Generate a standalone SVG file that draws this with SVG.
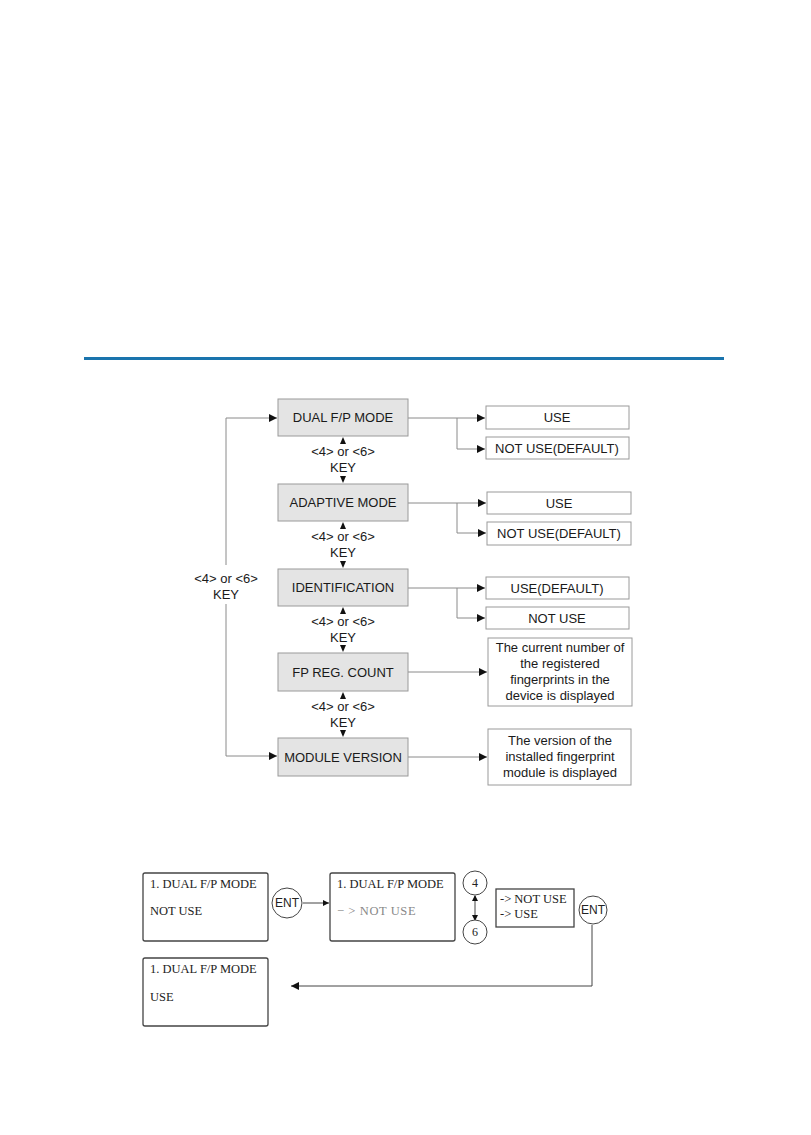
<svg xmlns="http://www.w3.org/2000/svg" width="811" height="1135" viewBox="0 0 811 1135">
<defs>
<style>
.mb{fill:#e4e4e4;stroke:#9a9a9a;stroke-width:1}
.ob{fill:#fff;stroke:#9a9a9a;stroke-width:1}
.t{font-family:"Liberation Sans",Arial,sans-serif;font-size:13px;fill:#1a1a1a;text-anchor:middle}
.ln{fill:none;stroke:#8a8a8a;stroke-width:1}
.lcd{fill:#fff;stroke:#444;stroke-width:1.3}
.s{font-family:"Liberation Serif","Times New Roman",serif;font-size:12.5px;fill:#222}
.g{fill:#888;letter-spacing:0.6px}
.c{fill:#fff;stroke:#444;stroke-width:1}
.ct{font-family:"Liberation Sans",Arial,sans-serif;font-size:12px;fill:#222;text-anchor:middle}
.cs{font-family:"Liberation Serif",serif;font-size:12px;fill:#222;text-anchor:middle}
.bl{fill:none;stroke:#444;stroke-width:1}
</style>
<marker id="ah" markerWidth="8" markerHeight="8" refX="8" refY="4" orient="auto" markerUnits="userSpaceOnUse">
<path d="M0,0 L8,4 L0,8 z" fill="#111"/>
</marker>
<marker id="ahs" markerWidth="6" markerHeight="6" refX="6" refY="3" orient="auto" markerUnits="userSpaceOnUse">
<path d="M0,0 L6,3 L0,6 z" fill="#111"/>
</marker>
</defs>
<rect width="811" height="1135" fill="#fff"/>
<rect x="84" y="357" width="640" height="3" fill="#1a74ad"/>

<g id="connectors">
<path class="ln" d="M226,565 V418 H277" marker-end="url(#ah)"/>
<path class="ln" d="M226,604 V756 H277" marker-end="url(#ah)"/>
<path class="ln" d="M408,418 H485" marker-end="url(#ah)"/>
<path class="ln" d="M457,418 V449 H485" marker-end="url(#ah)"/>
<path class="ln" d="M408,503 H486" marker-end="url(#ah)"/>
<path class="ln" d="M457,503 V533 H486" marker-end="url(#ah)"/>
<path class="ln" d="M408,588 H485" marker-end="url(#ah)"/>
<path class="ln" d="M457,588 V618 H485" marker-end="url(#ah)"/>
<path class="ln" d="M408,672 H487" marker-end="url(#ah)"/>
<path class="ln" d="M408,757 H487" marker-end="url(#ah)"/>
<g fill="#111">
<path d="M343,437 L340,444 L346,444 z"/><path d="M343,483 L340,476 L346,476 z"/>
<path d="M343,522 L340,529 L346,529 z"/><path d="M343,568 L340,561 L346,561 z"/>
<path d="M343,607 L340,614 L346,614 z"/><path d="M343,652 L340,645 L346,645 z"/>
<path d="M343,692 L340,699 L346,699 z"/><path d="M343,737 L340,730 L346,730 z"/>
</g>
<path class="bl" d="M303,903 H329" marker-end="url(#ahs)"/>
<path class="bl" d="M475,896 V920"/>
<path d="M475,895 L472,901 L478,901 z M475,921 L472,915 L478,915 z" fill="#111"/>
<path class="bl" d="M592,925 V986 H291" marker-end="url(#ah)"/>
</g>

<g id="key-labels">
<text class="t" x="343" y="456">&lt;4&gt; or &lt;6&gt;</text><text class="t" x="343" y="472">KEY</text>
<text class="t" x="343" y="541">&lt;4&gt; or &lt;6&gt;</text><text class="t" x="343" y="557">KEY</text>
<text class="t" x="343" y="626">&lt;4&gt; or &lt;6&gt;</text><text class="t" x="343" y="642">KEY</text>
<text class="t" x="343" y="711">&lt;4&gt; or &lt;6&gt;</text><text class="t" x="343" y="727">KEY</text>
<text class="t" x="226" y="583">&lt;4&gt; or &lt;6&gt;</text><text class="t" x="226" y="599">KEY</text>
</g>

<g id="dual"><rect class="mb" x="278" y="399" width="130" height="37"/><text class="t" x="343" y="422">DUAL F/P MODE</text></g>
<g id="adaptive"><rect class="mb" x="278" y="484" width="130" height="37"/><text class="t" x="343" y="507">ADAPTIVE MODE</text></g>
<g id="ident"><rect class="mb" x="278" y="569" width="130" height="37"/><text class="t" x="343" y="592">IDENTIFICATION</text></g>
<g id="fpreg"><rect class="mb" x="278" y="653" width="130" height="38"/><text class="t" x="343" y="677">FP REG. COUNT</text></g>
<g id="module"><rect class="mb" x="278" y="738" width="130" height="38"/><text class="t" x="343" y="762">MODULE VERSION</text></g>

<g id="dual-use"><rect class="ob" x="486" y="406" width="143" height="23"/><text class="t" x="557" y="422">USE</text></g>
<g id="dual-notuse"><rect class="ob" x="486" y="437" width="143" height="22"/><text class="t" x="557" y="453">NOT USE(DEFAULT)</text></g>
<g id="adapt-use"><rect class="ob" x="487" y="492" width="144" height="22"/><text class="t" x="559" y="508">USE</text></g>
<g id="adapt-notuse"><rect class="ob" x="487" y="522" width="144" height="23"/><text class="t" x="559" y="538">NOT USE(DEFAULT)</text></g>
<g id="ident-use"><rect class="ob" x="486" y="577" width="143" height="22"/><text class="t" x="557" y="593">USE(DEFAULT)</text></g>
<g id="ident-notuse"><rect class="ob" x="486" y="607" width="143" height="22"/><text class="t" x="557" y="623">NOT USE</text></g>
<g id="fp-desc"><rect class="ob" x="488" y="638" width="144" height="68"/>
<text class="t" x="560" y="652">The current number of</text><text class="t" x="560" y="668">the registered</text><text class="t" x="560" y="684">fingerprints in the</text><text class="t" x="560" y="700">device is displayed</text></g>
<g id="mv-desc"><rect class="ob" x="488" y="729" width="143" height="56"/>
<text class="t" x="560" y="745">The version of the</text><text class="t" x="560" y="761">installed fingerprint</text><text class="t" x="560" y="777">module is displayed</text></g>

<g id="lcd1"><rect class="lcd" x="143" y="873" width="125" height="68" rx="2"/><text class="s" x="150" y="888">1. DUAL F/P MODE</text><text class="s" x="150" y="915">NOT USE</text></g>
<g id="ent1"><circle class="c" cx="287" cy="903" r="15"/><text class="ct" x="287" y="907">ENT</text></g>
<g id="lcd2"><rect class="lcd" x="330" y="873" width="125" height="68" rx="2"/><text class="s" x="337" y="888">1. DUAL F/P MODE</text><text class="s g" x="337" y="915">− &gt; NOT USE</text></g>
<g id="key4"><circle class="c" cx="475" cy="883" r="12"/><text class="cs" x="475" y="887">4</text></g>
<g id="key6"><circle class="c" cx="475" cy="932" r="12"/><text class="cs" x="475" y="936">6</text></g>
<g id="choice"><rect class="lcd" x="496" y="889" width="78" height="38"/><text class="s" x="500" y="903">-&gt; NOT USE</text><text class="s" x="500" y="918">-&gt; USE</text></g>
<g id="ent2"><circle class="c" cx="593" cy="910" r="14"/><text class="ct" x="593" y="914">ENT</text></g>
<g id="lcd3"><rect class="lcd" x="143" y="958" width="125" height="68" rx="2"/><text class="s" x="150" y="973">1. DUAL F/P MODE</text><text class="s" x="150" y="1001">USE</text></g>
</svg>
